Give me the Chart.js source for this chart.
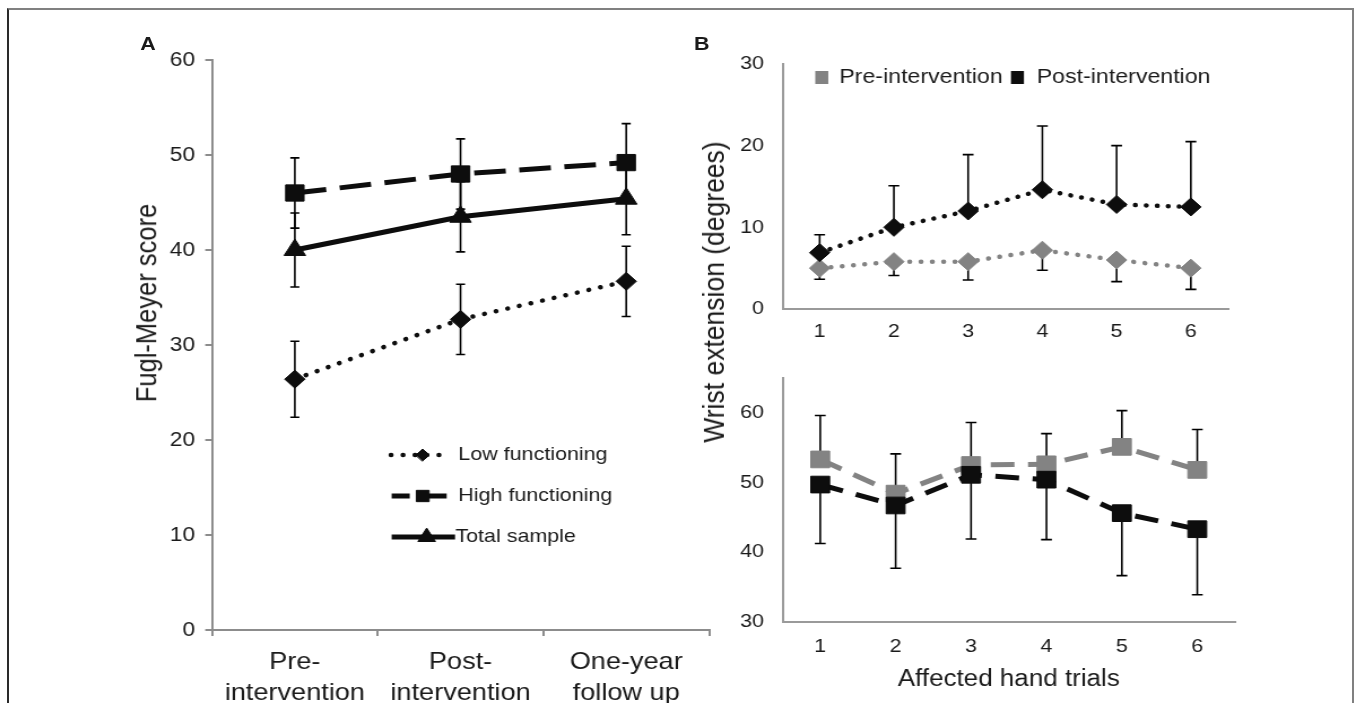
<!DOCTYPE html>
<html>
<head>
<meta charset="utf-8">
<title>Fugl-Meyer and wrist extension</title>
<script src="https://cdn.jsdelivr.net/npm/chart.js@4.4.1/dist/chart.umd.min.js"></script>
<style>
  html, body { margin: 0; padding: 0; background: #fff; overflow: hidden; }
  body { width: 1356px; height: 703px; position: relative; font-family: 'Liberation Sans', Arial, sans-serif; }
  #frame { position: absolute; left: 7px; top: 8px; width: 1347px; height: 720px; box-sizing: border-box;
           border-top: 2px solid #808080; border-left: 2px solid #2a2a2a; border-right: 2px solid #808080; }
  /* the source figure is a bit wider than tall, so the whole stage is stretched sideways */
  #stage { position: absolute; left: 0; top: 0; width: 1200px; height: 703px; transform: scaleX(1.13); transform-origin: 0 0; }
  canvas { position: absolute; }
  .lbl { position: absolute; color: #1a1a1a; white-space: nowrap; line-height: 1; }
  .panel { font-weight: bold; font-size: 19px; transform: translate(-50%, -50%); }
  .ytitle { transform: translate(-50%, -50%) rotate(-90deg); }
</style>
</head>
<body>
<div id="frame"></div>
<div id="stage">
  <canvas id="chartA" width="640" height="703" style="left:0;top:0;width:640px;height:703px"></canvas>
  <canvas id="chartB1" width="560" height="350" style="left:640px;top:0;width:560px;height:350px"></canvas>
  <canvas id="chartB2" width="560" height="353" style="left:640px;top:350px;width:560px;height:353px"></canvas>
  <div class="lbl panel" style="left:131px;top:43px">A</div>
  <div class="lbl panel" style="left:621px;top:43px">B</div>
  <div class="lbl ytitle" style="left:129.6px;top:303px;font-size:25.5px">Fugl-Meyer score</div>
  <div class="lbl ytitle" style="left:632px;top:292px;font-size:26.5px">Wrist extension (degrees)</div>
</div>
<script>
// panel A: Fugl-Meyer score by group
const phases = [['Pre-', 'intervention'], ['Post-', 'intervention'], ['One-year', 'follow up']];
const lowMean = [26.4, 32.7, 36.7];
const lowSD = [4.0, 3.7, 3.7];
const highMean = [46.0, 48.0, 49.2];
const highSD = [3.7, 3.7, 4.1];
const totalMean = [40.0, 43.5, 45.4];
const totalSD = [3.9, 3.7, 3.8];
const fmTicks = [0, 10, 20, 30, 40, 50, 60];

// panel B: wrist extension over the affected hand trials
const trials = ['1', '2', '3', '4', '5', '6'];
const upperPre = [5.0, 5.8, 5.8, 7.2, 6.0, 5.0];
const upperPreSD = [1.35, 1.7, 2.25, 2.45, 2.65, 2.6];
const upperPost = [6.9, 10.0, 12.0, 14.6, 12.8, 12.5];
const upperPostSD = [2.2, 5.1, 6.9, 7.8, 7.2, 8.0];
const upperTicks = [0, 10, 20, 30];
const lowerPre = [53.3, 48.4, 52.5, 52.6, 55.1, 51.8];
const lowerPreSD = [6.3, 5.7, 6.1, 4.4, 5.2, 5.8];
const lowerPost = [49.7, 46.7, 51.1, 50.4, 45.6, 43.3];
const lowerPostSD = [8.45, 9.0, 9.2, 8.6, 8.95, 9.4];
const lowerTicks = [30, 40, 50, 60];

const FONT = "'Liberation Sans', Arial, sans-serif";
const INK = '#1a1a1a';
const BLACK = '#0d0d0d';
const GRAY = '#838383';

Chart.defaults.font.family = FONT;
Chart.defaults.color = INK;

// error bars, drawn under the markers
const errorBars = {
    id: 'errorBars',
    beforeDatasetsDraw(chart, args, opts) {
        const ctx = chart.ctx;
        const y = chart.scales.y;
        chart.data.datasets.forEach((ds, i) => {
            const meta = chart.getDatasetMeta(i);
            ctx.save();
            ctx.strokeStyle = '#000';
            ctx.lineWidth = opts.lineWidth || 1.6;
            const cap = opts.cap || 4.5;
            meta.data.forEach((pt, j) => {
                const v = ds.data[j];
                const y0 = y.getPixelForValue(v);
                [[ds.errUp, 1], [ds.errDown, -1]].forEach(([arr, sign]) => {
                    if (!arr) return;
                    const y1 = y.getPixelForValue(v + sign * arr[j]);
                    ctx.beginPath();
                    ctx.moveTo(pt.x, y0);
                    ctx.lineTo(pt.x, y1);
                    ctx.moveTo(pt.x - cap, y1);
                    ctx.lineTo(pt.x + cap, y1);
                    ctx.stroke();
                });
            });
            ctx.restore();
        });
    }
};

function markerPath(ctx, style, x, y, r) {
    ctx.beginPath();
    if (style === 'rectRot') {
        ctx.moveTo(x - r, y); ctx.lineTo(x, y - r); ctx.lineTo(x + r, y); ctx.lineTo(x, y + r);
    } else if (style === 'triangle') {
        ctx.moveTo(x, y - r);
        ctx.lineTo(x + r * 0.866, y + r * 0.5);
        ctx.lineTo(x - r * 0.866, y + r * 0.5);
    } else {
        const h = r * Math.SQRT1_2;
        ctx.rect(x - h, y - h, 2 * h, 2 * h);
    }
    ctx.closePath();
}

// legend drawn where the source figure has it (inside the plot)
const placedLegend = {
    id: 'placedLegend',
    afterDraw(chart, args, opts) {
        if (!opts.items) return;
        const ctx = chart.ctx;
        opts.items.forEach(item => {
            const ds = chart.data.datasets[item.dataset];
            ctx.save();
            if (item.x1) {
                ctx.strokeStyle = ds.borderColor;
                ctx.lineWidth = ds.borderWidth;
                ctx.lineCap = ds.borderCapStyle || 'butt';
                ctx.setLineDash(item.dash || ds.borderDash || []);
                ctx.beginPath();
                ctx.moveTo(item.x0, item.y);
                ctx.lineTo(item.x1, item.y);
                ctx.stroke();
                ctx.setLineDash([]);
            }
            ctx.fillStyle = ds.backgroundColor;
            ctx.strokeStyle = ds.borderColor;
            ctx.lineWidth = 1;
            if (item.box) {
                ctx.fillRect(item.mx - item.box[0] / 2, item.y - item.box[1] / 2, item.box[0], item.box[1]);
            } else {
                markerPath(ctx, ds.pointStyle, item.mx, item.y, item.r);
                ctx.fill();
                ctx.stroke();
            }
            ctx.fillStyle = INK;
            ctx.font = opts.font;
            ctx.textBaseline = 'middle';
            ctx.textAlign = 'left';
            ctx.fillText(ds.label, item.tx, item.y);
            ctx.restore();
        });
    }
};

// axis line plus optional tick marks, no grid inside the plot
function axisStyle(color, withTicks, tickLength, between) {
    return {
        grid: { display: true, drawOnChartArea: false, drawTicks: withTicks, tickLength: tickLength || 0,
                color: color, lineWidth: 2, offset: !!between },
        border: { display: true, color: color, width: 2 }
    };
}

// Panel A
new Chart(document.getElementById('chartA'), {
    type: 'line',
    data: {
        labels: phases,
        datasets: [
            {
                label: 'Low functioning', data: lowMean, errUp: lowSD, errDown: lowSD,
                borderColor: BLACK, backgroundColor: BLACK, borderWidth: 4.5,
                borderDash: [0.1, 10.5], borderCapStyle: 'round',
                pointStyle: 'rectRot', pointRadius: 9, pointBorderWidth: 1
            },
            {
                label: 'High functioning', data: highMean, errUp: highSD, errDown: highSD,
                borderColor: BLACK, backgroundColor: BLACK, borderWidth: 5,
                borderDash: [28, 12],
                pointStyle: 'rect', pointRadius: 11.5, pointBorderWidth: 1
            },
            {
                label: 'Total sample', data: totalMean, errUp: totalSD, errDown: totalSD,
                borderColor: BLACK, backgroundColor: BLACK, borderWidth: 5,
                pointStyle: 'triangle', pointRadius: 11, pointBorderWidth: 1
            }
        ]
    },
    options: {
        responsive: false,
        animation: false,
        events: [],
        layout: { padding: { left: 0, right: 10.8, top: 60, bottom: 0 } },
        plugins: {
            legend: { display: false },
            tooltip: { enabled: false },
            errorBars: { lineWidth: 1.6, cap: 4 },
            placedLegend: {
                font: '19px ' + FONT,
                items: [
                    { dataset: 0, x0: 346, x1: 398, mx: 374, r: 6, tx: 405.6, y: 455 },
                    { dataset: 1, x0: 346.6, x1: 395.3, mx: 374.1, r: 8, tx: 405.6, y: 496, dash: [16, 16, 17] },
                    { dataset: 2, x0: 346.6, x1: 402.7, mx: 377.6, r: 9, tx: 403, y: 537 }
                ]
            }
        },
        scales: {
            x: Object.assign(axisStyle('#8c8c8c', true, 6, true), {
                offset: true,
                ticks: { font: { size: 24, lineHeight: 1.29 }, padding: 10.5, maxRotation: 0, autoSkip: false },
                afterFit: s => { s.height = 73; }
            }),
            y: Object.assign(axisStyle('#8c8c8c', true, 6, false), {
                min: 0, max: 60,
                ticks: { font: { size: 20 }, padding: 9 },
                afterBuildTicks: s => { s.ticks = fmTicks.map(v => ({ value: v })); },
                afterFit: s => { s.width = 187.6; }
            })
        }
    },
    plugins: [errorBars, placedLegend]
});

// Panel B, upper plot
new Chart(document.getElementById('chartB1'), {
    type: 'line',
    data: {
        labels: trials,
        datasets: [
            {
                label: 'Pre-intervention', data: upperPre, errDown: upperPreSD, order: 1,
                borderColor: GRAY, backgroundColor: GRAY, borderWidth: 4.5,
                borderDash: [0.1, 9.9], borderCapStyle: 'round',
                pointStyle: 'rectRot', pointRadius: 9, pointBorderWidth: 1
            },
            {
                label: 'Post-intervention', data: upperPost, errUp: upperPostSD, order: 0,
                borderColor: BLACK, backgroundColor: BLACK, borderWidth: 4.5,
                borderDash: [0.1, 9.6], borderCapStyle: 'round',
                pointStyle: 'rectRot', pointRadius: 9, pointBorderWidth: 1
            }
        ]
    },
    options: {
        responsive: false,
        animation: false,
        events: [],
        layout: { padding: { left: 0, right: 113.3, top: 64, bottom: 0 } },
        plugins: {
            legend: { display: false },
            tooltip: { enabled: false },
            errorBars: { lineWidth: 1.6, cap: 4.8 },
            placedLegend: {
                font: '20.5px ' + FONT,
                items: [
                    { dataset: 0, mx: 87.2, box: [11.5, 13], tx: 102.7, y: 77.5 },
                    { dataset: 1, mx: 260.4, box: [11.5, 13], tx: 277.4, y: 77.5 }
                ]
            }
        },
        scales: {
            x: Object.assign(axisStyle('#9a9a9a', false, 0, true), {
                offset: true,
                ticks: { font: { size: 19 }, padding: 11.5 },
                afterFit: s => { s.height = 41; }
            }),
            y: Object.assign(axisStyle('#9a9a9a', false, 0, false), {
                min: 0, max: 30,
                ticks: { font: { size: 19 }, padding: 16.4 },
                afterBuildTicks: s => { s.ticks = upperTicks.map(v => ({ value: v })); },
                afterFit: s => { s.width = 52.5; }
            })
        }
    },
    plugins: [errorBars, placedLegend]
});

// Panel B, lower plot
new Chart(document.getElementById('chartB2'), {
    type: 'line',
    data: {
        labels: trials,
        datasets: [
            {
                label: 'Pre-intervention', data: lowerPre, errUp: lowerPreSD, order: 1,
                borderColor: GRAY, backgroundColor: GRAY, borderWidth: 5,
                borderDash: [21, 12],
                pointStyle: 'rect', pointRadius: 11.8, pointBorderWidth: 1
            },
            {
                label: 'Post-intervention', data: lowerPost, errDown: lowerPostSD, order: 0,
                borderColor: BLACK, backgroundColor: BLACK, borderWidth: 5,
                borderDash: [21, 12],
                pointStyle: 'rect', pointRadius: 11.8, pointBorderWidth: 1
            }
        ]
    },
    options: {
        responsive: false,
        animation: false,
        events: [],
        layout: { padding: { left: 0, right: 107.1, top: 20, bottom: 0 } },
        plugins: {
            legend: { display: false },
            tooltip: { enabled: false },
            errorBars: { lineWidth: 1.6, cap: 4.8 }
        },
        scales: {
            x: Object.assign(axisStyle('#9a9a9a', false, 0, true), {
                offset: true,
                ticks: { font: { size: 19 }, padding: 13.5 },
                title: { display: true, text: 'Affected hand trials', font: { size: 23 }, padding: { top: 0, bottom: 9.2 } },
                afterFit: s => { s.height = 81; }
            }),
            y: Object.assign(axisStyle('#9a9a9a', false, 0, false), {
                min: 30, max: 65,
                ticks: { font: { size: 19 }, padding: 16.4 },
                afterBuildTicks: s => { s.ticks = lowerTicks.map(v => ({ value: v })); },
                afterFit: s => { s.width = 52.5; }
            })
        }
    },
    plugins: [errorBars]
});
</script>
</body>
</html>
